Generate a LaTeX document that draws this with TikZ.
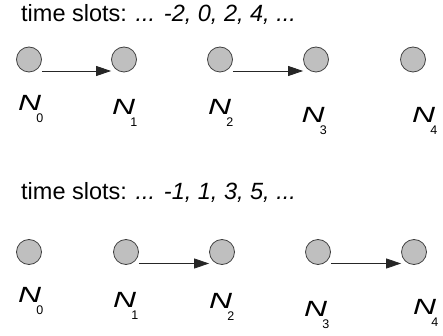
\documentclass[tikz,border=0pt]{standalone}
\usepackage{fontspec}
\setmainfont{Liberation Sans}
\usetikzlibrary{arrows.meta}

\newcommand{\nodelab}[1]{\scalebox{1.45}[1]{\textit{N}}\kern-5pt\raisebox{-12pt}{\fontsize{12.5}{13}\selectfont #1}}

\begin{document}
\begin{tikzpicture}[x=1pt, y=-1pt,
    slot/.style={circle, draw=black!75, fill=black!25, line width=0.8pt,
                 minimum size=25pt, inner sep=0pt},
    hop/.style={-{Triangle[length=15pt, width=10pt]}, line width=0.8pt, black!85},
    slottitle/.style={anchor=base west, inner sep=0pt, font=\fontsize{23.5}{28}\selectfont},
    nlab/.style={anchor=base west, inner sep=0pt, font=\fontsize{22}{24}\selectfont}
]
    \useasboundingbox (0,0) rectangle (443,336);

    % even time slots
    \node[slottitle] (evtitle) at (21,22) {time slots: \textit{... -2, 0, 2, 4, ...}};
    \node[slot] (a0) at (29,59.5) {};
    \node[slot] (a1) at (124,59.5) {};
    \node[slot] (a2) at (220,59.5) {};
    \node[slot] (a3) at (316,59.5) {};
    \node[slot] (a4) at (413,59.5) {};
    \draw[hop] ([yshift=-11.5pt]a0.east) -- ([yshift=-11.5pt]a1.west);
    \draw[hop] ([yshift=-11.5pt]a2.east) -- ([yshift=-11.5pt]a3.west);
    \node[nlab] (la0) at (18,111) {\nodelab{0}};
    \node[nlab] (la1) at (112,115) {\nodelab{1}};
    \node[nlab] (la2) at (208,115) {\nodelab{2}};
    \node[nlab] (la3) at (301.5,123) {\nodelab{3}};
    \node[nlab] (la4) at (412,122.5) {\nodelab{4}};

    % odd time slots
    \node[slottitle] (odtitle) at (21,200) {time slots: \textit{... -1, 1, 3, 5, ...}};
    \node[slot] (b0) at (29,252) {};
    \node[slot] (b1) at (126,252) {};
    \node[slot] (b2) at (222,252) {};
    \node[slot] (b3) at (318,252) {};
    \node[slot] (b4) at (414,252) {};
    \draw[hop] ([yshift=-11.5pt]b1.east) -- ([yshift=-11.5pt]b2.west);
    \draw[hop] ([yshift=-11.5pt]b3.east) -- ([yshift=-11.5pt]b4.west);
    \node[nlab] (lb0) at (18,302) {\nodelab{0}};
    \node[nlab] (lb1) at (113,307) {\nodelab{1}};
    \node[nlab] (lb2) at (209,308) {\nodelab{2}};
    \node[nlab] (lb3) at (304,316) {\nodelab{3}};
    \node[nlab] (lb4) at (413,314) {\nodelab{4}};
\end{tikzpicture}
\end{document}
